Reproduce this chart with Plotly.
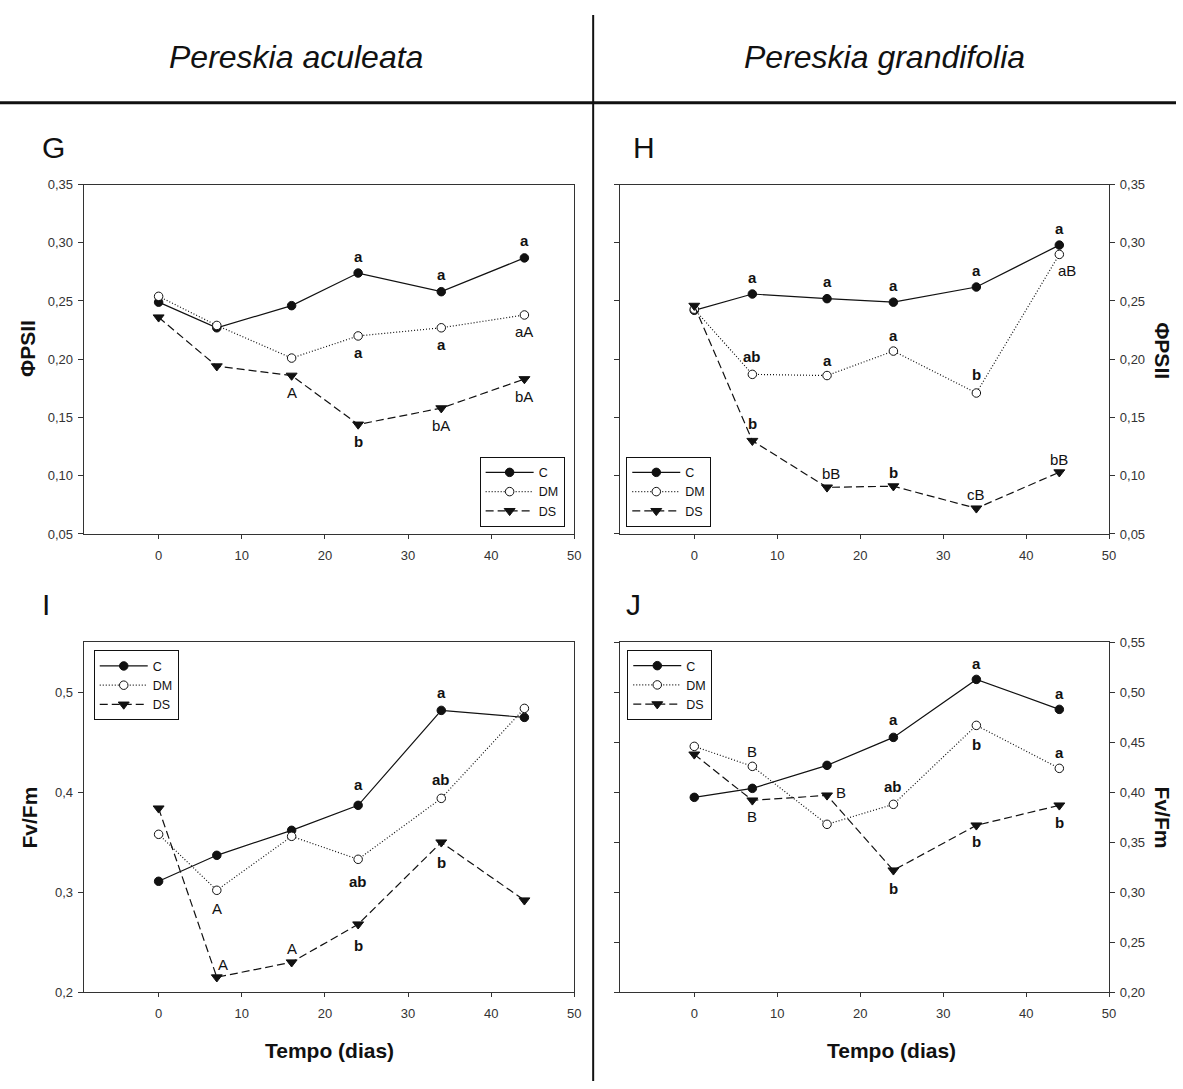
import plotly.graph_objects as go

# ---------------- data ----------------
days = [0, 7, 16, 24, 34, 44]
series_names = ["C", "DM", "DS"]

# Panel G - Pereskia aculeata, PhiPSII
G_C = [0.249, 0.227, 0.246, 0.274, 0.258, 0.287]
G_DM = [0.254, 0.229, 0.201, 0.220, 0.227, 0.238]
G_DS = [0.236, 0.194, 0.186, 0.144, 0.158, 0.183]
G_C_lbl = ["", "", "", "a", "a", "a"]
G_DM_lbl = ["", "", "", "a", "a", "aA"]
G_DS_lbl = ["", "", "A", "b", "bA", "bA"]

# Panel H - Pereskia grandifolia, PhiPSII
H_C = [0.242, 0.256, 0.252, 0.249, 0.262, 0.298]
H_DM = [0.243, 0.187, 0.186, 0.207, 0.171, 0.290]
H_DS = [0.246, 0.130, 0.090, 0.091, 0.072, 0.103]
H_C_lbl = ["", "a", "a", "a", "a", "a"]
H_DM_lbl = ["", "ab", "a", "a", "b", "aB"]
H_DS_lbl = ["", "b", "bB", "b", "cB", "bB"]

# Panel I - Pereskia aculeata, Fv/Fm
I_C = [0.311, 0.337, 0.362, 0.387, 0.482, 0.475]
I_DM = [0.358, 0.302, 0.356, 0.333, 0.394, 0.484]
I_DS = [0.384, 0.215, 0.230, 0.268, 0.350, 0.292]
I_C_lbl = ["", "", "", "a", "a", ""]
I_DM_lbl = ["", "A", "", "ab", "ab", ""]
I_DS_lbl = ["", "A", "A", "b", "b", ""]

# Panel J - Pereskia grandifolia, Fv/Fm
J_C = [0.395, 0.404, 0.427, 0.455, 0.513, 0.483]
J_DM = [0.446, 0.426, 0.368, 0.388, 0.467, 0.424]
J_DS = [0.438, 0.392, 0.397, 0.322, 0.367, 0.387]
J_C_lbl = ["", "", "", "a", "a", "a"]
J_DM_lbl = ["", "B", "", "ab", "b", "a"]
J_DS_lbl = ["", "B", "B", "b", "b", "b"]

phi_ticks = [0.05, 0.10, 0.15, 0.20, 0.25, 0.30, 0.35]
fvfm_ticks_I = [0.2, 0.3, 0.4, 0.5]
fvfm_ticks_J = [0.20, 0.25, 0.30, 0.35, 0.40, 0.45, 0.50, 0.55]
x_ticks = [0, 10, 20, 30, 40, 50]

# ---------------- label placement (style, px offsets: dx, dy up-positive) ----------------
U, D = 17, -17
G_off = {"C": [(0, U)] * 6, "DM": [(0, D)] * 6, "DS": [(0, D)] * 6}
H_off = {"C": [(0, U)] * 6,
         "DM": [(0, U), (0, 18), (0, 15), (0, 16), (0, 19), (8, -16)],
         "DS": [(0, U), (0, 17), (4, 14), (0, 14), (0, 14), (0, 13)]}
I_off = {"C": [(0, U), (0, U), (0, U), (0, 21), (0, 18), (0, U)],
         "DM": [(0, D), (0, -18), (0, D), (0, -22), (0, 19), (0, D)],
         "DS": [(0, U), (6, 13), (0, 14), (0, -21), (0, -20), (0, D)]}
J_off = {"C": [(0, U), (0, U), (0, U), (0, 18), (0, 16), (0, 16)],
         "DM": [(0, U), (0, 15), (0, U), (0, 18), (0, -19), (0, 16)],
         "DS": [(0, D), (0, -16), (14, 3), (0, -18), (0, -16), (0, -17)]}

FONT = "Liberation Sans, Arial, sans-serif"
INK = "#111111"
AXC = "#333333"

styles = {
    "C": dict(line=dict(color=INK, width=1.2, dash="solid"),
              marker=dict(symbol="circle", size=8.5, color=INK, line=dict(color=INK, width=1))),
    "DM": dict(line=dict(color=INK, width=1.2, dash="1px,2px"),
               marker=dict(symbol="circle", size=8.5, color="white", line=dict(color=INK, width=1))),
    "DS": dict(line=dict(color=INK, width=1.2, dash="8px,4px"),
               marker=dict(symbol="triangle-down", size=9.5, color=INK, line=dict(color=INK, width=1))),
}

panels = [
    ("G", "", {"C": G_C, "DM": G_DM, "DS": G_DS},
     {"C": G_C_lbl, "DM": G_DM_lbl, "DS": G_DS_lbl}, G_off, "legend"),
    ("H", "2", {"C": H_C, "DM": H_DM, "DS": H_DS},
     {"C": H_C_lbl, "DM": H_DM_lbl, "DS": H_DS_lbl}, H_off, "legend2"),
    ("I", "3", {"C": I_C, "DM": I_DM, "DS": I_DS},
     {"C": I_C_lbl, "DM": I_DM_lbl, "DS": I_DS_lbl}, I_off, "legend3"),
    ("J", "4", {"C": J_C, "DM": J_DM, "DS": J_DS},
     {"C": J_C_lbl, "DM": J_DM_lbl, "DS": J_DS_lbl}, J_off, "legend4"),
]

fig = go.Figure()
annotations = []

for name, sfx, data, lbls, offs, leg in panels:
    xa, ya = "x" + sfx, "y" + sfx
    for s in series_names:
        fig.add_trace(go.Scatter(
            x=days, y=data[s], mode="lines+markers", name=s,
            xaxis=xa, yaxis=ya, legend=leg, showlegend=True,
            line=styles[s]["line"], marker=styles[s]["marker"],
        ))
        for i, (xv, yv, t) in enumerate(zip(days, data[s], lbls[s])):
            if not t:
                continue
            dx, dy = offs[s][i]
            bold = t.islower()
            annotations.append(dict(
                x=xv, y=yv, xref=xa, yref=ya, text=f"<b>{t}</b>" if bold else t,
                showarrow=False, xshift=dx, yshift=dy, xanchor="center", yanchor="middle",
                font=dict(family=FONT, size=15, color=INK),
            ))

W, Hh = 1183, 1089
def px(x):
    return x / W
def py(y):
    return 1 - y / Hh

xdomL = [px(84.3), px(577.7)]
xdomR = [px(623.3), px(1115.7)]
ydomT = [py(534.3), py(180)]
ydomB = [py(999), py(644.3)]

tickfont = dict(family=FONT, size=13, color="#333333")

def xaxis(domain, anchor):
    return dict(domain=domain, anchor=anchor, range=[-9, 50], tickvals=x_ticks,
                ticks="outside", ticklen=4, tickcolor=AXC, showline=True, linecolor=AXC,
                linewidth=1.2, mirror=True, showgrid=False, zeroline=False,
                tickfont=tickfont, ticklabelstandoff=5)

def yaxis(domain, anchor, rng, tv, fmt, side):
    return dict(domain=domain, anchor=anchor, range=rng, tickvals=tv, tickformat=fmt,
                ticks="outside", ticklen=5, tickcolor=AXC, showline=True, linecolor=AXC,
                linewidth=1.2, mirror=("ticks" if side == "right" else True),
                side=side, showgrid=False, zeroline=False, tickfont=tickfont,
                ticklabelstandoff=2)

legend_common = dict(bordercolor="#111111", borderwidth=1, bgcolor="white",
                     font=dict(family=FONT, size=12.5, color=INK), itemwidth=48,
                     tracegroupgap=0, traceorder="normal")

def note(x, y, text, size, angle=0):
    return dict(x=px(x), y=py(y), xref="paper", yref="paper", text=text, textangle=angle,
                xanchor="center", yanchor="middle", showarrow=False,
                font=dict(family=FONT, size=size, color=INK))

annotations += [
    note(298, 51, "<i>Pereskia aculeata</i>", 32),
    note(890, 51, "<i>Pereskia grandifolia</i>", 32),
    note(54, 142, "G", 30),
    note(648, 142, "H", 30),
    note(46, 606, "I", 30),
    note(637, 606, "J", 30),
    note(27, 346, "<b>ΦPSII</b>", 21, -90),
    note(1170, 348, "<b>ΦPSII</b>", 21, 90),
    note(30, 822, "<b>Fv/Fm</b>", 21, -90),
    note(1169, 822, "<b>Fv/Fm</b>", 21, 90),
    note(331, 1058, "<b>Tempo (dias)</b>", 21),
    note(897, 1058, "<b>Tempo (dias)</b>", 21),
]

shapes = [
    dict(type="line", xref="paper", yref="paper", x0=0, x1=1, y0=py(97), y1=py(97),
         line=dict(color=INK, width=3)),
    dict(type="line", xref="paper", yref="paper", x0=px(596.7), x1=px(596.7), y0=py(8), y1=0,
         line=dict(color=INK, width=2)),
]

fig.update_layout(
    width=W, height=Hh, margin=dict(l=0, r=0, t=0, b=0),
    paper_bgcolor="white", plot_bgcolor="white",
    separators=",.",
    font=dict(family=FONT, color=INK),
    xaxis=xaxis(xdomL, "y"), yaxis=yaxis(ydomT, "x", [0.05, 0.35], phi_ticks, ".2f", "left"),
    xaxis2=xaxis(xdomR, "y2"), yaxis2=yaxis(ydomT, "x2", [0.05, 0.35], phi_ticks, ".2f", "right"),
    xaxis3=xaxis(xdomL, "y3"), yaxis3=yaxis(ydomB, "x3", [0.2, 0.55], fvfm_ticks_I, ".1f", "left"),
    xaxis4=xaxis(xdomR, "y4"), yaxis4=yaxis(ydomB, "x4", [0.2, 0.55], fvfm_ticks_J, ".2f", "right"),
    legend=dict(legend_common, x=px(568), y=py(527), xanchor="right", yanchor="bottom"),
    legend2=dict(legend_common, x=px(630), y=py(527), xanchor="left", yanchor="bottom"),
    legend3=dict(legend_common, x=px(94.3), y=py(652.3), xanchor="left", yanchor="top"),
    legend4=dict(legend_common, x=px(631), y=py(652), xanchor="left", yanchor="top"),
    annotations=annotations,
    shapes=shapes,
    showlegend=True,
)

fig.write_html("out.html")
